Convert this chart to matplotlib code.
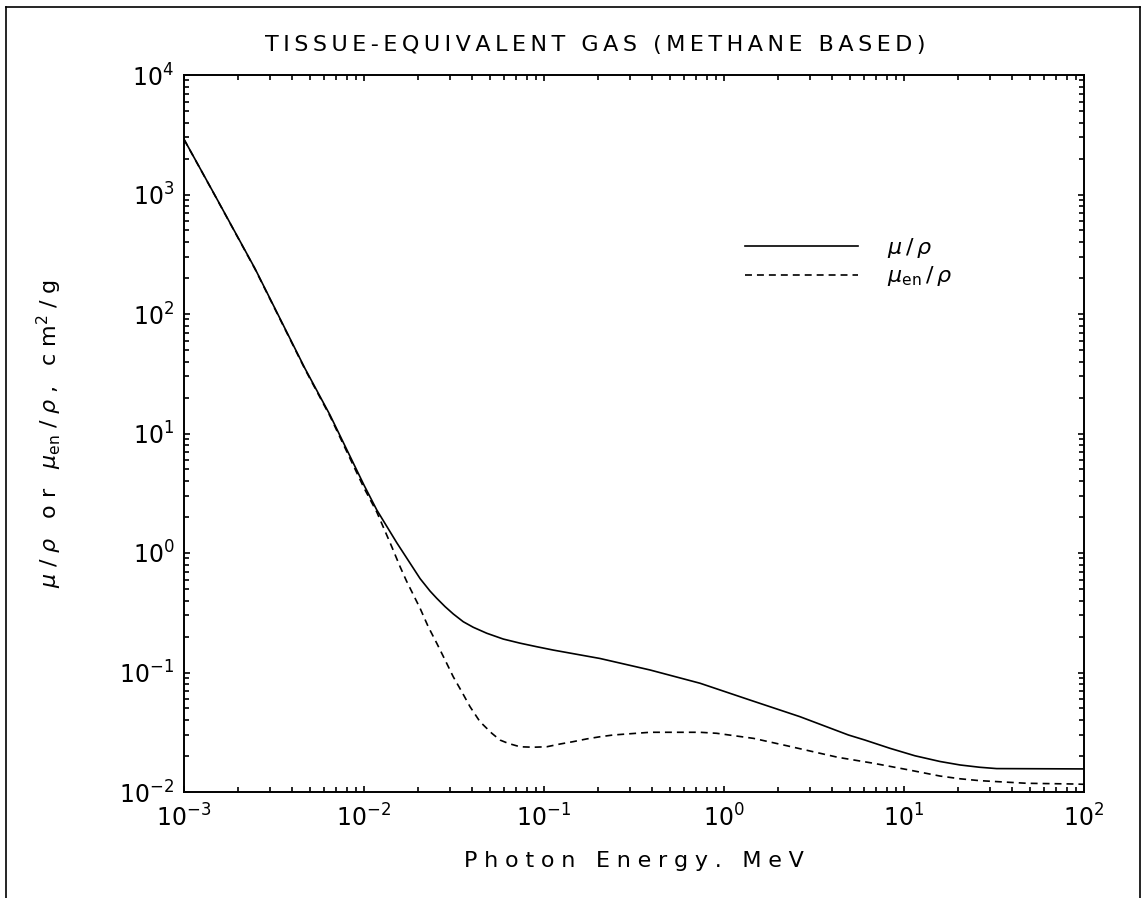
import matplotlib
matplotlib.use("Agg")
import matplotlib.pyplot as plt
from matplotlib.lines import Line2D

# values (MeV, cm2/g)
energy_mu = [1e-3, 1.456e-3, 2.48e-3, 4.7e-3, 6.47e-3, 1.0e-2, 1.178e-2, 1.52e-2,
             2.05e-2, 2.328e-2, 2.535e-2, 2.82e-2, 3.133e-2, 3.56e-2, 4.046e-2,
             4.81e-2, 5.94e-2, 7.36e-2, 9.1e-2, 0.1127, 0.2047, 0.388, 0.736,
             1.39, 2.64, 4.91, 6.07, 8.36, 11.5, 15.85, 20.5, 26.4, 32.7, 100]
mu_rho = [2900, 1040, 240, 35, 14.3, 3.7, 2.29, 1.22,
          0.61, 0.48, 0.418, 0.356, 0.309, 0.266, 0.239,
          0.213, 0.1905, 0.176, 0.1644, 0.154, 0.131, 0.105, 0.0813,
          0.0589, 0.0427, 0.030, 0.0272, 0.0232, 0.0201, 0.0180, 0.01683, 0.0161, 0.0157, 0.0156]

energy_en = [1e-3, 1.456e-3, 2.48e-3, 4.7e-3, 6.47e-3, 1.0e-2, 1.178e-2, 1.426e-2,
             1.585e-2, 1.725e-2, 2.05e-2, 2.275e-2, 2.54e-2, 2.82e-2, 3.13e-2,
             3.49e-2, 3.88e-2, 4.406e-2, 5.13e-2, 5.70e-2, 6.34e-2, 7.36e-2,
             8.73e-2, 0.1035, 0.1227, 0.1456, 0.1725, 0.2047, 0.2427, 0.388,
             0.736, 0.91, 1.46, 2.23, 3.41, 4.3, 6.76, 10.4, 15.85, 20.5, 26.4,
             48, 87, 100]
muen_rho = [2890, 1036, 238, 34.5, 14.0, 3.5, 2.2, 1.13,
            0.77, 0.58, 0.344, 0.2414, 0.175, 0.1274, 0.0923,
            0.0692, 0.0518, 0.0388, 0.031, 0.0272, 0.0255, 0.0239,
            0.0237, 0.0239, 0.0252, 0.0264, 0.0278, 0.029, 0.030, 0.0316,
            0.0316, 0.031, 0.0281, 0.0244, 0.0211, 0.0195, 0.0174, 0.0154, 0.0136, 0.0129, 0.01244,
            0.01183, 0.01167, 0.0116]

title = "TISSUE-EQUIVALENT GAS (METHANE BASED)"
xlabel = "Photon Energy. MeV"

plt.rcParams['font.family'] = ['DejaVu Sans']
plt.rcParams['mathtext.fontset'] = 'dejavusans'
plt.rcParams['lines.scale_dashes'] = False

TS = "\u2009"           # thin space
WIDE = "\u2009\u200a"   # thin + hair space


def spaced(s, sep=TS):
    # the original font has wide letter spacing
    return sep.join(s)


fig = plt.figure(figsize=(11.43, 8.98), dpi=100)
W, H = 1143, 898
ax = fig.add_axes([184 / W, (H - 792) / H, 900 / W, 717 / H])

ax.plot(energy_mu, mu_rho, color="black", lw=1.2, label=r"$\mu\,/\,\rho$")
ax.plot(energy_en, muen_rho, color="black", lw=1.2, dashes=(5, 3.6),
        label=r"$\mu_{\mathrm{en}}\,/\,\rho$")

ax.set_xscale("log")
ax.set_yscale("log")
ax.set_xlim(1e-3, 1e2)
ax.set_ylim(1e-2, 1e4)

ax.tick_params(which="both", direction="in", top=True, right=True, labelsize=17)
ax.tick_params(which="major", length=4, width=1.2, pad=7)
ax.tick_params(which="minor", length=3.5, width=1.2)
ax.tick_params(axis="x", which="major", pad=9)
for sp in ax.spines.values():
    sp.set_linewidth(1.4)

ax.set_xlabel(spaced(xlabel, WIDE), fontsize=16, labelpad=14)

ylab_parts = [r"$\mu$", "/", r"$\rho$", " ", "o", "r", " ", r"$\mu_{\mathrm{en}}$",
              "/", r"$\rho$", ",", " ", "c", r"m$^2$", "/", "g"]
ax.set_ylabel(WIDE.join(ylab_parts), fontsize=16, labelpad=40)

fig.text(595 / W, 1 - 45 / H, spaced(title), fontsize=16, ha="center", va="center")

ax.legend(loc="upper left", bbox_to_anchor=(745 / W, 1 - 236 / H),
          bbox_transform=fig.transFigure, frameon=False, fontsize=16,
          handlelength=5.1, handletextpad=1.3, labelspacing=0.2,
          borderpad=0, borderaxespad=0)

# page frame (left, top, right)
for xs, ys in [([6, 6], [0, 7]), ([6, 1140], [7, 7]), ([1140, 1140], [7, 0])]:
    fig.add_artist(Line2D([x / W for x in xs], [1 - y / H if y else 0 for y in ys],
                          transform=fig.transFigure, lw=1.2, color="black"))

fig.savefig("out.png", dpi=100)
